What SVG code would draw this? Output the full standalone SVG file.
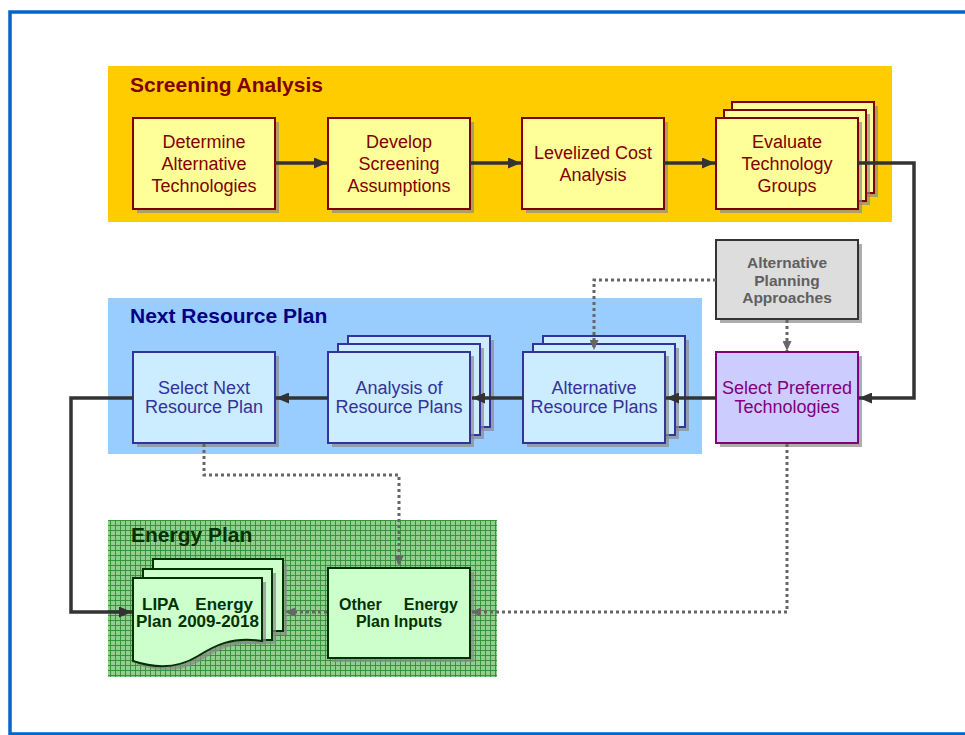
<svg xmlns="http://www.w3.org/2000/svg" width="965" height="735" viewBox="0 0 965 735">
<style>
text{font-family:"Liberation Sans",Arial,sans-serif}
.title{font-size:21px;font-weight:bold}
.reg{font-size:18px;text-anchor:middle}
.bld{font-weight:bold}
.shadow{fill:#8a8a8a;opacity:0.7}
.yb{fill:#FFFF99;stroke:#800000;stroke-width:2}
.bb{fill:#CCECFF;stroke:#333399;stroke-width:2}
.gb{fill:#CCFFCC;stroke:#003300;stroke-width:2}
.solid{fill:none;stroke:#333333;stroke-width:3.5;stroke-linejoin:miter}
.dot{fill:none;stroke:#666666;stroke-width:3;stroke-dasharray:3 3}
</style>
<defs>
<pattern id="grid" width="5" height="5" patternUnits="userSpaceOnUse">
<rect width="5" height="5" fill="#92CE92"/>
<path d="M0,0.5 H5 M0.5,0 V5" stroke="#2F8F2F" stroke-width="0.9"/>
</pattern>
<marker id="ah" markerUnits="userSpaceOnUse" markerWidth="13" markerHeight="11" refX="13" refY="5.5" orient="auto">
<path d="M0,0 L13,5.5 L0,11 z" fill="#333333"/>
</marker>
<marker id="dh" markerUnits="userSpaceOnUse" markerWidth="10" markerHeight="9" refX="10" refY="4.5" orient="auto">
<path d="M0,0 L10,4.5 L0,9 z" fill="#666666"/>
</marker>
</defs>
<rect x="0" y="0" width="965" height="735" fill="#FFFFFF"/>
<rect x="10" y="12" width="1000" height="722" fill="none" stroke="#0066CC" stroke-width="3.5"/>

<g id="band-screening">
<rect x="108" y="66" width="784" height="156" fill="#FFCC00"/>
<text class="title" x="130" y="92" fill="#800000">Screening Analysis</text>
</g>
<g id="band-next">
<rect x="108" y="298" width="594" height="156" fill="#99CCFF"/>
<text class="title" x="130" y="323" fill="#000080">Next Resource Plan</text>
</g>
<g id="band-energy">
<rect x="108" y="520" width="389" height="157" fill="url(#grid)"/>
<text class="title" x="131" y="542" fill="#003300">Energy Plan</text>
</g>

<g id="determine">
<rect class="shadow" x="137" y="122" width="142" height="91"/>
<rect class="yb" x="133" y="118" width="142" height="91"/>
<text class="reg" fill="#800000"><tspan x="204" y="148">Determine</tspan><tspan x="204" y="170">Alternative</tspan><tspan x="204" y="192">Technologies</tspan></text>
</g>
<g id="develop">
<rect class="shadow" x="332" y="122" width="142" height="91"/>
<rect class="yb" x="328" y="118" width="142" height="91"/>
<text class="reg" fill="#800000"><tspan x="399" y="148">Develop</tspan><tspan x="399" y="170">Screening</tspan><tspan x="399" y="192">Assumptions</tspan></text>
</g>
<g id="levelized">
<rect class="shadow" x="526" y="122" width="142" height="91"/>
<rect class="yb" x="522" y="118" width="142" height="91"/>
<text class="reg" fill="#800000"><tspan x="593" y="159">Levelized Cost</tspan><tspan x="593" y="181">Analysis</tspan></text>
</g>
<g id="evaluate">
<rect class="shadow" x="736" y="106" width="142" height="91"/>
<rect class="yb" x="732" y="102" width="142" height="91"/>
<rect class="shadow" x="728" y="114" width="142" height="91"/>
<rect class="yb" x="724" y="110" width="142" height="91"/>
<rect class="shadow" x="720" y="122" width="142" height="91"/>
<rect class="yb" x="716" y="118" width="142" height="91"/>
<text class="reg" fill="#800000"><tspan x="787" y="148">Evaluate</tspan><tspan x="787" y="170">Technology</tspan><tspan x="787" y="192">Groups</tspan></text>
</g>

<g id="alt-planning">
<rect class="shadow" x="720" y="244" width="142" height="79"/>
<rect x="716" y="240" width="142" height="79" fill="#DDDDDD" stroke="#333333" stroke-width="2"/>
<text class="bld" font-size="15.5" text-anchor="middle" fill="#606060"><tspan x="787" y="268">Alternative</tspan><tspan x="787" y="285.5">Planning</tspan><tspan x="787" y="303">Approaches</tspan></text>
</g>
<g id="select-preferred">
<rect class="shadow" x="720" y="356" width="142" height="91"/>
<rect x="716" y="352" width="142" height="91" fill="#CCCCFF" stroke="#800080" stroke-width="2"/>
<text class="reg" fill="#800080"><tspan x="787" y="394">Select Preferred</tspan><tspan x="787" y="413">Technologies</tspan></text>
</g>

<g id="select-next">
<rect class="shadow" x="137" y="356" width="142" height="91"/>
<rect class="bb" x="133" y="352" width="142" height="91"/>
<text class="reg" fill="#333399"><tspan x="204" y="394">Select Next</tspan><tspan x="204" y="413">Resource Plan</tspan></text>
</g>
<g id="analysis">
<rect class="shadow" x="352" y="340" width="142" height="91"/>
<rect class="bb" x="348" y="336" width="142" height="91"/>
<rect class="shadow" x="342" y="348" width="142" height="91"/>
<rect class="bb" x="338" y="344" width="142" height="91"/>
<rect class="shadow" x="332" y="356" width="142" height="91"/>
<rect class="bb" x="328" y="352" width="142" height="91"/>
<text class="reg" fill="#333399"><tspan x="399" y="394">Analysis of</tspan><tspan x="399" y="413">Resource Plans</tspan></text>
</g>
<g id="alt-resource">
<rect class="shadow" x="547" y="340" width="142" height="91"/>
<rect class="bb" x="543" y="336" width="142" height="91"/>
<rect class="shadow" x="537" y="348" width="142" height="91"/>
<rect class="bb" x="533" y="344" width="142" height="91"/>
<rect class="shadow" x="527" y="356" width="142" height="91"/>
<rect class="bb" x="523" y="352" width="142" height="91"/>
<text class="reg" fill="#333399"><tspan x="594" y="394">Alternative</tspan><tspan x="594" y="413">Resource Plans</tspan></text>
</g>

<g id="lipa">
<rect class="shadow" x="157" y="563" width="130" height="72"/>
<rect class="gb" x="153" y="559" width="130" height="72"/>
<rect class="shadow" x="147" y="573" width="129" height="71"/>
<rect class="gb" x="143" y="569" width="129" height="71"/>
<path class="shadow" d="M137,582 H266 V645 C236,640 218,650 202,660 C186,670 164,674 137,665 Z"/>
<path class="gb" d="M133,578 H262 V641 C232,636 214,646 198,656 C182,666 160,670 133,661 Z"/>
<text class="bld" font-size="17" fill="#003300"><tspan x="142" y="609.5">LIPA</tspan><tspan x="253" y="609.5" text-anchor="end">Energy</tspan><tspan x="136" y="627">Plan</tspan><tspan x="259" y="627" text-anchor="end">2009-2018</tspan></text>
</g>
<g id="other-inputs">
<rect class="shadow" x="332" y="572" width="142" height="90"/>
<rect class="gb" x="328" y="568" width="142" height="90"/>
<text class="bld" font-size="16" fill="#003300"><tspan x="339" y="610">Other</tspan><tspan x="458" y="610" text-anchor="end">Energy</tspan><tspan x="399" y="627" text-anchor="middle">Plan Inputs</tspan></text>
</g>

<g id="connectors">
<path class="solid" d="M275,163 H327" marker-end="url(#ah)"/>
<path class="solid" d="M470,163 H521" marker-end="url(#ah)"/>
<path class="solid" d="M664,163 H715" marker-end="url(#ah)"/>
<path class="solid" d="M858,163 H914 V398 H859" marker-end="url(#ah)"/>
<path class="solid" d="M716,398 H666" marker-end="url(#ah)"/>
<path class="solid" d="M523,398 H472" marker-end="url(#ah)"/>
<path class="solid" d="M328,398 H276" marker-end="url(#ah)"/>
<path class="solid" d="M133,398 H71 V612 H132" marker-end="url(#ah)"/>
<path class="dot" d="M716,280 H594 V350" marker-end="url(#dh)"/>
<path class="dot" d="M787,320 V351" marker-end="url(#dh)"/>
<path class="dot" d="M204,444 V475 H399 V566" marker-end="url(#dh)"/>
<path class="dot" d="M787,444 V612 H471" marker-end="url(#dh)"/>
<path class="dot" d="M327,612 H285" marker-end="url(#dh)"/>
</g>
</svg>
